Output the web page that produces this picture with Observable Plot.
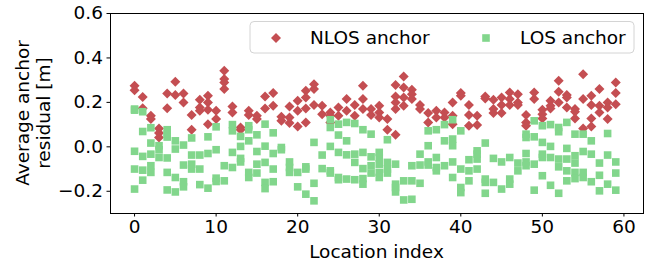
<!DOCTYPE html>
<html>
<head>
<meta charset="utf-8">
<script src="https://cdn.jsdelivr.net/npm/d3@7"></script>
<script src="https://cdn.jsdelivr.net/npm/@observablehq/plot@0.6"></script>
<style>
  html, body { margin: 0; padding: 0; background: #fff; }
  #chart { position: relative; width: 657px; height: 264px; }
</style>
</head>
<body>
<div id="chart"></div>
<script>
// NLOS anchor residuals per location index (m)
const nlosValues = [
  [0.275, 0.255], [0.224, 0.174], [0.14, 0.125], [0.083, 0.062, 0.042], [0.24, 0.174],
  [0.293, 0.233], [0.24, 0.2], [0.143, 0.077], [0.212, 0.177, 0.162], [0.23, 0.2, 0.167, 0.102],
  [0.162, 0.125], [0.342, 0.305, 0.29, 0.26], [0.182, 0.155], [0.087, 0.077], [0.162, 0.143],
  [0.14, 0.125], [0.227, 0.173], [0.242, 0.185], [0.135, 0.117], [0.182, 0.132, 0.107],
  [0.207, 0.162, 0.092], [0.252, 0.222, 0.173, 0.11], [0.282, 0.26, 0.188], [0.185, 0.147], [0.155, 0.14, 0.11],
  [0.177, 0.14], [0.215, 0.162], [0.188, 0.14], [0.275, 0.215, 0.17], [0.17, 0.143],
  [0.185, 0.155, 0.132], [0.125, 0.077], [0.278, 0.227, 0.2, 0.17, 0.054], [0.317, 0.267, 0.222, 0.185], [0.257, 0.237, 0.215],
  [0.188, 0.17], [0.152, 0.11], [0.162, 0.132], [0.155, 0.132], [0.2, 0.14, 0.102],
  [0.242, 0.23], [0.188, 0.143, 0.095], [0.14, 0.098], [0.227, 0.218], [0.212, 0.17, 0.152],
  [0.222, 0.188, 0.152], [0.245, 0.215, 0.188], [0.237, 0.2, 0.188], [0.143, 0.11, 0.095], [0.245, 0.215],
  [0.167, 0.147, 0.128], [0.207, 0.185, 0.173], [0.297, 0.248, 0.2], [0.233, 0.222, 0.177], [0.17, 0.158, 0.128],
  [0.327, 0.215, 0.083], [0.23, 0.188, 0.128, 0.092], [0.26, 0.185, 0.155], [0.2, 0.177, 0.125], [0.29, 0.242, 0.192]
];
// LOS anchor residuals per location index (m)
const losValues = [
  [0.17, 0.165, -0.02, -0.10, -0.19], [0.158, 0.069, -0.043, -0.105, -0.15], [0.086, 0.017, -0.033, -0.085, -0.115],
  [0.005, -0.013, -0.048], [0.077, 0.057, 0.044, -0.05, -0.115, -0.194], [0.027, -0.01, -0.138, -0.203],
  [0.008, -0.082, -0.157, -0.18], [0.04, -0.037, -0.078, -0.1], [-0.037, -0.1, -0.17],
  [0.045, -0.03, -0.186], [0.09, -0.013, -0.141, -0.156], [-0.085, -0.153],
  [0.1, 0.072, -0.025, -0.093], [0.047, 0.002, -0.052, -0.068], [0.095, 0.077, 0.027, -0.115, -0.138],
  [0.054, -0.021, -0.078, -0.118], [0.102, 0.003, -0.07, -0.16, -0.188], [0.063, -0.03, -0.1, -0.157],
  [-0.003, -0.013], [-0.068, -0.093, -0.115], [-0.115, -0.18],
  [-0.09, -0.1, -0.213], [0.02, -0.164, -0.243], [-0.037, -0.098],
  [0.122, 0.087, 0.002, -0.108, -0.118], [0.102, 0.053, -0.025, -0.138, -0.148], [0.11, 0.027, -0.036, -0.145],
  [0.105, -0.033, -0.07, -0.148], [0.077, -0.025, -0.098, -0.143, -0.168], [0.057, -0.045, -0.085, -0.118],
  [-0.025, -0.048, -0.078, -0.115, -0.138], [0.032, -0.07, -0.1, -0.118], [-0.078, -0.168, -0.183, -0.203],
  [-0.153, -0.239], [-0.085, -0.153, -0.236], [-0.033, -0.082, -0.164],
  [0.072, 0.005, -0.068, -0.082], [0.077, -0.048, -0.093, -0.108], [0.1, 0.027, -0.085],
  [0.122, 0.035, 0.005, -0.068, -0.138], [0.072, -0.1, -0.183, -0.206], [-0.058, -0.108, -0.153],
  [-0.018, -0.033, -0.055, -0.1], [0.017, -0.145, -0.16, -0.209], [-0.052, -0.16],
  [-0.068, -0.19], [-0.048, -0.145, -0.168], [-0.073, -0.108],
  [0.057, 0.042, -0.03, -0.068, -0.085], [0.117, 0.045, -0.078, -0.195], [0.095, 0.02, -0.033, -0.048, -0.13],
  [0.1, 0.002, -0.048, -0.173], [0.087, 0.068, -0.055, -0.09, -0.209], [0.11, -0.007, -0.055, -0.108, -0.153],
  [0.057, -0.04, -0.073, -0.115, -0.143], [0.057, -0.021, -0.115, -0.138], [0.027, -0.033, -0.157],
  [-0.073, -0.128, -0.198], [0.06, -0.037, -0.168], [-0.068, -0.118, -0.195]
];
const xTicks = [0, 10, 20, 30, 40, 50, 60];
const yTicks = [-0.2, 0.0, 0.2, 0.4, 0.6];
const seriesNames = ["NLOS anchor", "LOS anchor"];
const xLabel = "Location index";
const yLabelLines = ["Average anchor", "residual [m]"];

const RED = "#c44e52";
const GREEN = "#82d68c";
const FONT = "DejaVu Sans";

const nlosPts = nlosValues.flatMap((vals, i) => vals.map(v => ({loc: i, value: v})));
const losPts = losValues.flatMap((vals, i) => vals.map(v => ({loc: i, value: v})));

const diamondSym = {draw(ctx, size) { const r = Math.sqrt(size / Math.PI);
  ctx.moveTo(0, -r); ctx.lineTo(r, 0); ctx.lineTo(0, r); ctx.lineTo(-r, 0); ctx.closePath(); }};
const squareSym = {draw(ctx, size) { const r = Math.sqrt(size / Math.PI);
  ctx.moveTo(-r, -r); ctx.lineTo(r, -r); ctx.lineTo(r, r); ctx.lineTo(-r, r); ctx.closePath(); }};

const W = 657, H = 264;
const mL = 110, mR = 14, mT = 13, mB = 51;

const chart = Plot.plot({
  width: W, height: H,
  marginLeft: mL, marginRight: mR, marginTop: mT, marginBottom: mB,
  style: {fontFamily: FONT, fontSize: "18.5px", color: "#000", background: "transparent"},
  x: {domain: [-2.95, 62.4]},
  y: {domain: [-0.3, 0.6]},
  marks: [
    Plot.dot(nlosPts, {x: "loc", y: "value", symbol: diamondSym, r: 5, fill: RED, stroke: "none"}),
    Plot.dot(losPts, {x: "loc", y: "value", symbol: squareSym, r: 3.8, fill: GREEN, stroke: "none"}),
    Plot.frame({stroke: "#000", strokeWidth: 1}),
    Plot.axisX({ticks: xTicks, tickSize: 3.5, tickPadding: 3, label: null, tickFormat: d => String(d), fontSize: 18.5}),
    Plot.axisY({ticks: yTicks, tickSize: 3.5, tickPadding: 4, label: null, tickFormat: d3.format(".1f"), fontSize: 18.5})
  ]
});

document.getElementById("chart").appendChild(chart);

const svg = d3.select(chart);
const plotCx = mL + (W - mL - mR) / 2;
const plotCy = mT + (H - mT - mB) / 2;

// x label
svg.append("text")
  .attr("x", plotCx).attr("y", 258)
  .attr("text-anchor", "middle")
  .attr("font-family", FONT).attr("font-size", 18.5).attr("fill", "#000")
  .text(xLabel);

// y label (two lines, rotated)
const yl = svg.append("text")
  .attr("transform", `translate(${29},${plotCy}) rotate(-90)`)
  .attr("text-anchor", "middle")
  .attr("font-family", FONT).attr("font-size", 18.5).attr("fill", "#000");
yl.append("tspan").attr("x", 0).attr("dy", 0).text(yLabelLines[0]);
yl.append("tspan").attr("x", 0).attr("dy", 21).text(yLabelLines[1]);

// legend
const lg = svg.append("g").attr("text-anchor", "start");
lg.append("rect").attr("x", 250).attr("y", 21.5).attr("width", 384).attr("height", 31.5)
  .attr("rx", 4).attr("fill", "#fff").attr("fill-opacity", 0.8).attr("stroke", "#d4d4d4").attr("stroke-width", 1);
lg.append("path").attr("transform", "translate(276,38)")
  .attr("d", d3.symbol(diamondSym, Math.PI * 25)()).attr("fill", RED);
lg.append("text").attr("x", 310).attr("y", 44).attr("text-anchor", "start").attr("font-family", FONT).attr("font-size", 18.5).attr("fill", "#000").text(seriesNames[0]);
lg.append("path").attr("transform", "translate(486,38)")
  .attr("d", d3.symbol(squareSym, Math.PI * 3.8 * 3.8)()).attr("fill", GREEN);
lg.append("text").attr("x", 520).attr("y", 44).attr("text-anchor", "start").attr("font-family", FONT).attr("font-size", 18.5).attr("fill", "#000").text(seriesNames[1]);
</script>
</body>
</html>
